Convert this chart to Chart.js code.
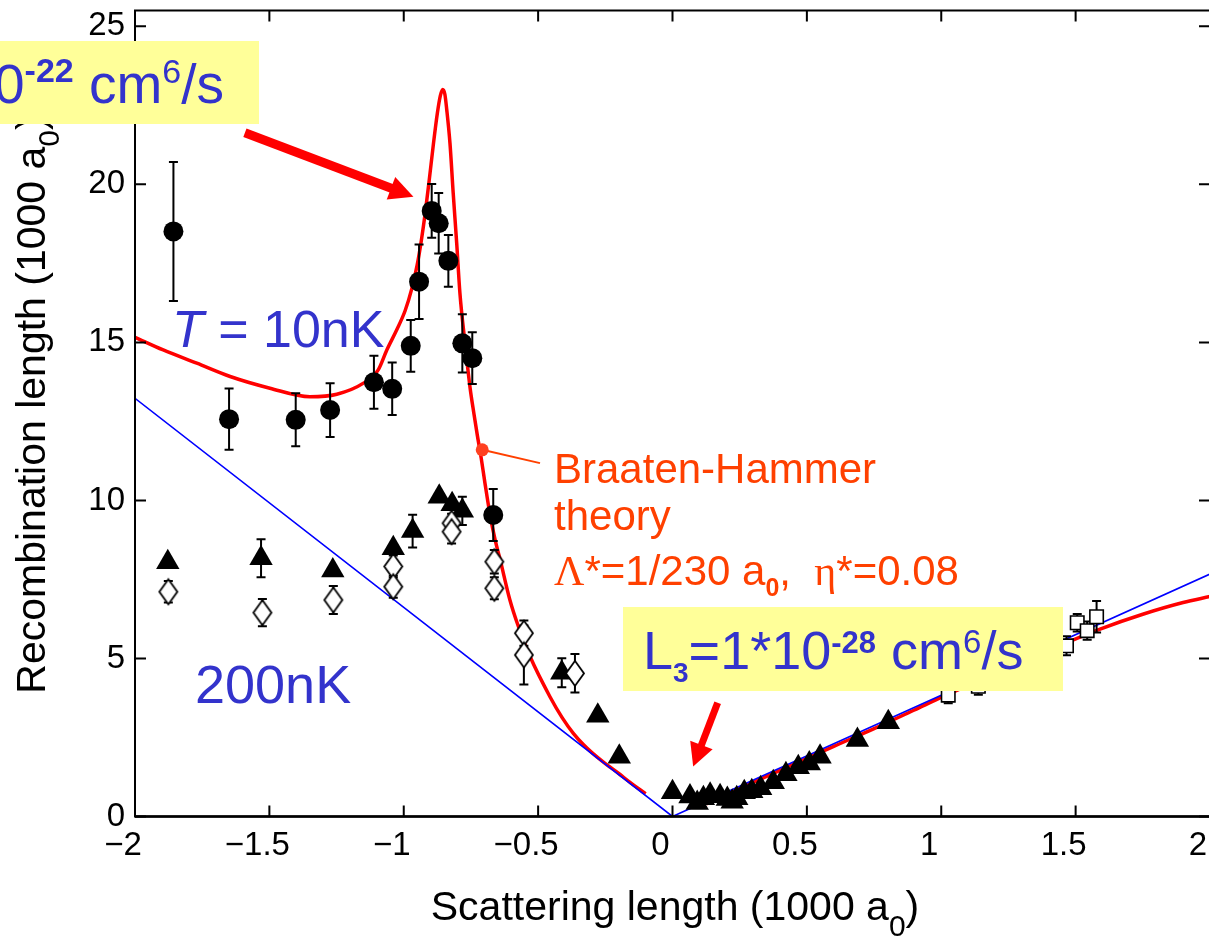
<!DOCTYPE html>
<html>
<head>
<meta charset="utf-8">
<title>Recombination length vs scattering length</title>
<script src="https://cdn.jsdelivr.net/npm/chart.js@4.4.0/dist/chart.umd.min.js"></script>
<style>
  html, body { margin: 0; padding: 0; background: #fff; overflow: hidden; }
  #wrap { width: 1212px; height: 939px; }
</style>
</head>
<body>
<div id="wrap"><canvas id="myChart" width="1212" height="939"></canvas></div>
<script>
// axes: scattering length and recombination length, both in 1000 a0
const xTicks = [-2, -1.5, -1, -0.5, 0, 0.5, 1, 1.5, 2]
const yTicks = [0, 5, 10, 15, 20, 25]

// T = 10 nK (filled circles)
const circleX = [-1.857, -1.650, -1.402, -1.274, -1.111, -1.043, -0.974, -0.943, -0.896, -0.870, -0.834, -0.782, -0.745, -0.667]
const circleY = [18.51, 12.57, 12.55, 12.86, 13.74, 13.53, 14.89, 16.92, 19.16, 18.77, 17.58, 14.97, 14.50, 9.54]
const circleErr = [2.2, 0.97, 0.84, 0.85, 0.84, 0.83, 0.82, 1.18, 0.85, 0.96, 0.82, 0.92, 0.82, 0.82]

// 200 nK (filled triangles)
const triX = [-1.878, -1.531, -1.264, -1.039, -0.967, -0.868, -0.820, -0.782, -0.412, -0.278, -0.198,
  0.000, 0.065, 0.092, 0.115, 0.140, 0.177, 0.204, 0.222, 0.239, 0.267, 0.295, 0.328, 0.375, 0.422, 0.468, 0.509, 0.549, 0.688, 0.803]
const triY = [8.04, 8.17, 7.78, 8.49, 9.03, 10.12, 9.88, 9.67, 4.55, 3.19, 1.89,
  0.77, 0.63, 0.43, 0.58, 0.69, 0.64, 0.55, 0.47, 0.58, 0.77, 0.80, 0.89, 1.08, 1.34, 1.56, 1.68, 1.89, 2.42, 2.98]
const triErr = [null, 0.6, null, null, 0.52, null, null, 0.45, 0.46, null, null,
  null, null, null, null, null, null, null, null, null, null, null, null, null, null, null, null, null, null, null]

// open diamonds
const diaX = [-1.876, -1.526, -1.262, -1.039, -1.039, -0.822, -0.822, -0.663, -0.663, -0.553, -0.553, -0.363]
const diaY = [7.11, 6.45, 6.85, 7.91, 7.27, 9.28, 9.01, 8.06, 7.22, 5.80, 5.11, 4.53]
const diaErr = [0.34, 0.43, 0.44, 0.35, 0.35, 0.30, 0.37, 0.37, 0.35, 0.40, 0.93, 0.61]

// open squares
const sqX = [1.026, 1.138, 1.466, 1.506, 1.543, 1.578]
const sqY = [3.84, 4.12, 5.40, 6.13, 5.88, 6.32]
const sqErr = [0.26, 0.27, 0.30, 0.28, 0.29, 0.50]

// unitarity limit (blue)
const unitX = [-2, 0, 2]
const unitY = [13.23, 0, 7.67]

// Braaten-Hammer curve, a < 0 and a > 0 branches
const theoryNegX = [-2.00, -1.895, -1.77, -1.646, -1.498, -1.349, -1.249, -1.150, -1.095, -1.063, -1.026, -0.995, -0.970,
  -0.950, -0.935, -0.920, -0.905, -0.890, -0.875, -0.864, -0.855, -0.847, -0.840, -0.828, -0.816, -0.803, -0.791, -0.772,
  -0.753, -0.739, -0.726, -0.712, -0.697, -0.679, -0.660, -0.642, -0.605, -0.575, -0.530, -0.456, -0.410, -0.369, -0.330,
  -0.300, -0.257, -0.200, -0.158, -0.100]
const theoryNegY = [15.16, 14.76, 14.34, 13.92, 13.55, 13.28, 13.36, 13.71, 14.13, 14.76, 15.40, 16.00, 16.70,
  17.45, 18.20, 19.10, 20.15, 21.25, 22.25, 22.80, 23.00, 22.85, 22.36, 21.30, 19.72, 18.14, 16.56, 14.97,
  13.55, 12.75, 12.05, 11.35, 10.50, 9.55, 8.75, 8.15, 6.85, 6.05, 5.06, 3.79, 3.12, 2.63, 2.26,
  2.02, 1.72, 1.36, 1.08, 0.72]
const theoryPosX = [0.127, 0.20, 0.30, 0.40, 0.50, 0.60, 0.75, 0.90, 1.008, 1.20, 1.35, 1.467, 1.591, 1.75, 1.90, 2.00]
const theoryPosY = [0.40, 0.70, 1.08, 1.46, 1.84, 2.22, 2.78, 3.37, 3.80, 4.50, 5.05, 5.50, 5.93, 6.40, 6.77, 6.96]

const SANS = '"Liberation Sans", Arial, Helvetica, sans-serif'
const SERIF = '"Liberation Serif", "Times New Roman", serif'
const BLUE_TXT = '#3333cc'
const ORANGE = '#ff4000'
const YELLOW = '#ffff99'

const toPts = (xs, ys) => xs.map((x, i) => ({ x: x, y: ys[i] }))
const fmtTick = v => v < 0 ? '\u2212' + Math.abs(v) : String(v)

// open diamond marker, a bit taller than wide
function diamondMarker() {
  let c = document.createElement('canvas')
  c.width = 24; c.height = 29
  let g = c.getContext('2d')
  g.beginPath()
  g.moveTo(12, 2); g.lineTo(21, 14.5); g.lineTo(12, 27); g.lineTo(3, 14.5)
  g.closePath()
  g.fillStyle = '#fff'; g.fill()
  g.lineWidth = 1.8; g.strokeStyle = '#000'; g.stroke()
  return c
}

function drawParts(ctx, x, y, parts) {
  parts.forEach(p => {
    ctx.font = p.f
    ctx.fillText(p.t, x, y + (p.dy || 0))
    x += ctx.measureText(p.t).width
  })
}
function partsWidth(ctx, parts) {
  let w = 0
  parts.forEach(p => { ctx.font = p.f; w += ctx.measureText(p.t).width })
  return w
}

function arrow(ctx, x1, y1, x2, y2, w, headLen, headHalf) {
  let a = Math.atan2(y2 - y1, x2 - x1)
  let bx = x2 - headLen * Math.cos(a), by = y2 - headLen * Math.sin(a)
  ctx.lineWidth = w
  ctx.beginPath(); ctx.moveTo(x1, y1); ctx.lineTo(bx + Math.cos(a), by + Math.sin(a)); ctx.stroke()
  ctx.beginPath()
  ctx.moveTo(x2, y2)
  ctx.lineTo(bx + headHalf * Math.sin(a), by - headHalf * Math.cos(a))
  ctx.lineTo(bx - headHalf * Math.sin(a), by + headHalf * Math.cos(a))
  ctx.closePath(); ctx.fill()
}

function drawErrors(chart, ds) {
  let xs = chart.scales.x, ys = chart.scales.y, ctx = chart.ctx
  ctx.save()
  ctx.strokeStyle = '#000'; ctx.lineWidth = 2
  ds.data.forEach((p, i) => {
    let e = ds.errors[i]
    if (e == null) return
    let px = xs.getPixelForValue(p.x)
    let top = ys.getPixelForValue(p.y + e), bot = ys.getPixelForValue(p.y - e)
    ctx.beginPath()
    ctx.moveTo(px, top); ctx.lineTo(px, bot)
    ctx.moveTo(px - 4.5, top); ctx.lineTo(px + 4.5, top)
    ctx.moveTo(px - 4.5, bot); ctx.lineTo(px + 4.5, bot)
    ctx.stroke()
  })
  ctx.restore()
}

// box with inward ticks on all four sides
function drawFrame(chart) {
  let { left, right, top, bottom } = chart.chartArea
  let xs = chart.scales.x, ys = chart.scales.y, ctx = chart.ctx
  ctx.save()
  ctx.strokeStyle = '#000'; ctx.lineWidth = 2
  ctx.strokeRect(left, top, right - left, bottom - top)
  ctx.beginPath()
  ctx.moveTo(left, bottom); ctx.lineTo(right, bottom)
  ctx.lineWidth = 2.6; ctx.stroke()
  ctx.lineWidth = 2
  ctx.beginPath()
  xTicks.forEach(v => {
    let px = xs.getPixelForValue(v)
    ctx.moveTo(px, bottom); ctx.lineTo(px, bottom - 11)
    ctx.moveTo(px, top); ctx.lineTo(px, top + 11)
  })
  yTicks.forEach(v => {
    let py = ys.getPixelForValue(v)
    ctx.moveTo(left, py); ctx.lineTo(left + 11, py)
    ctx.moveTo(right, py); ctx.lineTo(right - 11, py)
  })
  ctx.stroke()
  ctx.restore()
}

const decor = {
  id: 'decor',
  beforeDatasetDraw(chart, args) {
    let ds = chart.data.datasets[args.index]
    if (ds.errors) drawErrors(chart, ds)
  },
  afterDatasetsDraw(chart) {
    drawFrame(chart)
  },
  afterDraw(chart) {
    let ctx = chart.ctx, xs = chart.scales.x, ys = chart.scales.y
    let X = v => xs.getPixelForValue(v), Y = v => ys.getPixelForValue(v)
    ctx.save()
    ctx.textAlign = 'left'; ctx.textBaseline = 'alphabetic'
    ctx.fillStyle = '#000'

    // axis titles
    let xt = [
      { t: 'Scattering length (1000 a', f: `41px ${SANS}` },
      { t: '0', f: `30px ${SANS}`, dy: 16 },
      { t: ')', f: `41px ${SANS}` }
    ]
    drawParts(ctx, 675 - partsWidth(ctx, xt) / 2, 920, xt)
    let yt = [
      { t: 'Recombination length (1000 a', f: `41px ${SANS}` },
      { t: '0', f: `30px ${SANS}`, dy: 14 },
      { t: ')', f: `41px ${SANS}` }
    ]
    ctx.save()
    ctx.translate(45, 405); ctx.rotate(-Math.PI / 2)
    drawParts(ctx, -partsWidth(ctx, yt) / 2, 0, yt)
    ctx.restore()

    // red arrows
    ctx.fillStyle = '#ff0000'; ctx.strokeStyle = '#ff0000'
    arrow(ctx, X(-1.591), Y(21.63), X(-0.964), Y(19.61), 9, 24, 12)
    arrow(ctx, X(0.168), Y(3.60), X(0.077), Y(1.58), 7, 23, 12)

    // temperature labels
    ctx.fillStyle = BLUE_TXT
    drawParts(ctx, 172, 347, [
      { t: 'T', f: `italic 52px ${SANS}` },
      { t: ' = 10nK', f: `52px ${SANS}` }
    ])
    drawParts(ctx, 195, 703, [{ t: '200nK', f: `54px ${SANS}` }])

    // theory label with pointer to the curve
    ctx.strokeStyle = ORANGE; ctx.lineWidth = 2
    ctx.beginPath(); ctx.moveTo(X(-0.708), Y(11.6)); ctx.lineTo(X(-0.493), Y(11.18)); ctx.stroke()
    ctx.fillStyle = '#ff4020'
    ctx.beginPath(); ctx.arc(X(-0.708), Y(11.6), 6.5, 0, Math.PI * 2); ctx.fill()
    ctx.fillStyle = ORANGE
    drawParts(ctx, 554, 483, [{ t: 'Braaten-Hammer', f: `42px ${SANS}` }])
    drawParts(ctx, 554, 530, [{ t: 'theory', f: `42px ${SANS}` }])
    drawParts(ctx, 554, 585, [
      { t: '\u039b', f: `42px ${SERIF}` },
      { t: '*=1/230 a', f: `42px ${SANS}` },
      { t: '0', f: `bold 25px ${SANS}`, dy: 11 },
      { t: ',  ', f: `42px ${SANS}` },
      { t: '\u03b7', f: `42px ${SERIF}` },
      { t: '*=0.08', f: `42px ${SANS}` }
    ])

    // rate boxes
    ctx.fillStyle = YELLOW
    ctx.fillRect(0, 41, 259, 83)
    ctx.fillRect(623, 607, 440, 84)
    ctx.fillStyle = BLUE_TXT
    drawParts(ctx, -6, 103, [
      { t: '0', f: `55px ${SANS}` },
      { t: '-22', f: `bold 34px ${SANS}`, dy: -21 },
      { t: ' cm', f: `55px ${SANS}` },
      { t: '6', f: `34px ${SANS}`, dy: -20 },
      { t: '/s', f: `55px ${SANS}` }
    ])
    drawParts(ctx, 643, 669, [
      { t: 'L', f: `54px ${SANS}` },
      { t: '3', f: `bold 28px ${SANS}`, dy: 13 },
      { t: '=1*10', f: `54px ${SANS}` },
      { t: '-28', f: `bold 31px ${SANS}`, dy: -16 },
      { t: ' cm', f: `54px ${SANS}` },
      { t: '6', f: `33px ${SANS}`, dy: -16 },
      { t: '/s', f: `54px ${SANS}` }
    ])
    ctx.restore()
  }
}

let ctx = document.querySelector('#myChart').getContext('2d')
let myChart = new Chart(ctx, {
  type: 'scatter',
  data: {
    datasets: [
      {
        label: '10nK', data: toPts(circleX, circleY), errors: circleErr,
        pointStyle: 'circle', pointRadius: 10, backgroundColor: '#000', borderColor: '#000', borderWidth: 0, order: 1
      },
      {
        label: 'diamonds', data: toPts(diaX, diaY), errors: diaErr,
        pointStyle: diamondMarker(), order: 2
      },
      {
        label: 'squares', data: toPts(sqX, sqY), errors: sqErr,
        pointStyle: 'rect', pointRadius: 9.5, backgroundColor: '#fff', borderColor: '#000', borderWidth: 1.6, order: 2
      },
      {
        label: '200nK', data: toPts(triX, triY), errors: triErr,
        pointStyle: 'triangle', pointRadius: 13.5, backgroundColor: '#000', borderColor: '#000', borderWidth: 0, order: 3
      },
      {
        label: 'unitarity', data: toPts(unitX, unitY), showLine: true,
        borderColor: '#0000ff', borderWidth: 1.6, pointRadius: 0, order: 4
      },
      {
        label: 'theory a<0', data: toPts(theoryNegX, theoryNegY), showLine: true, cubicInterpolationMode: 'monotone',
        borderColor: '#ff0000', borderWidth: 3.5, pointRadius: 0, order: 5
      },
      {
        label: 'theory a>0', data: toPts(theoryPosX, theoryPosY), showLine: true, cubicInterpolationMode: 'monotone',
        borderColor: '#ff0000', borderWidth: 3.5, pointRadius: 0, order: 5
      }
    ]
  },
  options: {
    responsive: false,
    animation: false,
    events: [],
    layout: { autoPadding: false, padding: { top: 10.5, right: 2, left: 0, bottom: 0 } },
    plugins: { legend: { display: false }, tooltip: { enabled: false } },
    scales: {
      x: {
        type: 'linear', min: -2, max: 2,
        grid: { display: false, drawTicks: false, tickLength: 0 }, border: { display: false },
        afterBuildTicks: s => { s.ticks = xTicks.map(v => ({ value: v })) },
        ticks: {
          color: '#000', font: { family: SANS, size: 33 }, padding: 10, labelOffset: -12,
          maxRotation: 0, autoSkip: false, callback: v => fmtTick(v)
        },
        afterFit: s => { s.height = 122.5; s.paddingLeft = 0; s.paddingRight = 0 }
      },
      y: {
        type: 'linear', min: 0, max: 25.5,
        grid: { display: false, drawTicks: false, tickLength: 0 }, border: { display: false },
        afterBuildTicks: s => { s.ticks = yTicks.map(v => ({ value: v })) },
        ticks: { color: '#000', font: { family: SANS, size: 33 }, padding: 10, autoSkip: false, callback: v => fmtTick(v) },
        afterFit: s => { s.width = 135; s.paddingTop = 0; s.paddingBottom = 0 }
      }
    }
  },
  plugins: [decor]
})
</script>
</body>
</html>
